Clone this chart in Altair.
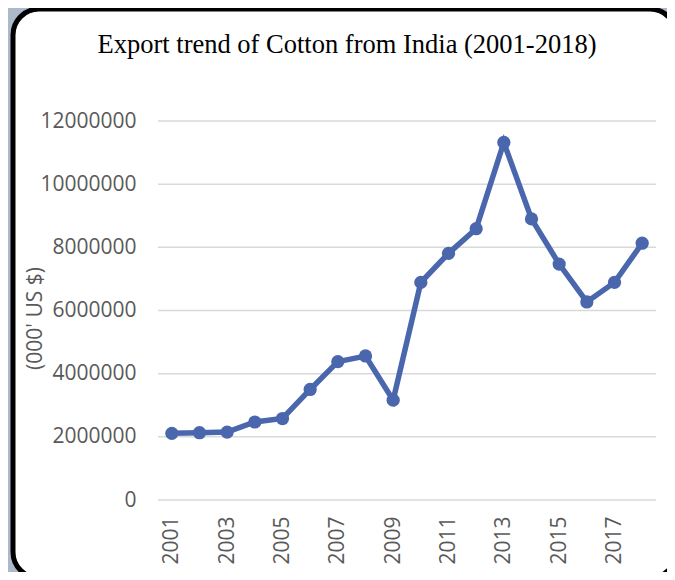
import altair as alt
import pandas as pd

years = [str(y) for y in range(2001, 2019)]
exports = [2110000, 2130000, 2150000, 2470000, 2580000, 3500000, 4380000, 4560000,
           3160000, 6890000, 7810000, 8590000, 11320000, 8900000, 7470000, 6270000,
           6890000, 8130000]
y_ticks = [0, 2000000, 4000000, 6000000, 8000000, 10000000, 12000000]
x_labels = [str(y) for y in range(2001, 2019, 2)]

df = pd.DataFrame({"year": years, "value": exports})
grid_df = pd.DataFrame({"value": y_ticks})
card_df = pd.DataFrame({"k": [0]})

W, H = 498, 379
PL, PT, PR, PB = 150, 113, 11, 72

blue = "#4A66AC"
grey_txt = "#595959"

x_enc = alt.X("year:O", scale=alt.Scale(type="point", padding=0.5, domain=years),
              axis=alt.Axis(title=None, values=x_labels, labelAngle=270, labelAlign="right",
                            labelBaseline="middle", labelPadding=16, ticks=False,
                            tickSize=0, domain=False, grid=False,
                            labelFont="Open Sans", labelFontSize=21,
                            labelColor=grey_txt, zindex=1))
y_enc = alt.Y("value:Q", scale=alt.Scale(domain=[0, 12000000], nice=False),
              axis=alt.Axis(values=y_ticks, format="d", title="(000' US $)",
                            titleFont="Open Sans", titleFontSize=21,
                            titleFontWeight="normal", titleColor=grey_txt,
                            titleAngle=270, titleAlign="center", titleBaseline="middle",
                            titleX=-123, titleY=197,
                            labelFont="Open Sans", labelFontSize=21, labelColor=grey_txt,
                            labelPadding=22, ticks=False, tickSize=0, domain=False,
                            grid=False, zindex=1))

card = alt.Chart(card_df).mark_rect(
    fill="white", stroke="black", strokeWidth=5, cornerRadius=26
).encode(
    x=alt.value(5 - PL), x2=alt.value(668 - PL),
    y=alt.value(1 - PT), y2=alt.value(570 - PT),
)

grid = alt.Chart(grid_df).mark_rule(color="#D9D9D9", strokeWidth=1.5).encode(
    y=y_enc, x=alt.value(0), x2=alt.value(W),
)

line = alt.Chart(df).mark_line(color=blue, strokeWidth=5.5).encode(x=x_enc, y=y_enc)
pts = alt.Chart(df).mark_point(filled=True, color=blue, size=175, opacity=1).encode(
    x=x_enc, y=y_enc)

chart = alt.layer(card, grid, line, pts).properties(
    width=W, height=H,
    title=alt.TitleParams(
        "Export trend of Cotton from India (2001-2018)",
        font="Liberation Serif", fontSize=26.5, fontWeight="normal", color="black",
        anchor="middle", dx=-60, offset=22, dy=74,
    ),
    autosize=alt.AutoSizeParams(type="none"),
    padding={"left": PL, "top": PT, "right": PR, "bottom": PB},
).configure(background="#ADB9CA").configure_view(stroke=None)

chart.save("out.html", embed_options={"renderer": "svg", "actions": False})
